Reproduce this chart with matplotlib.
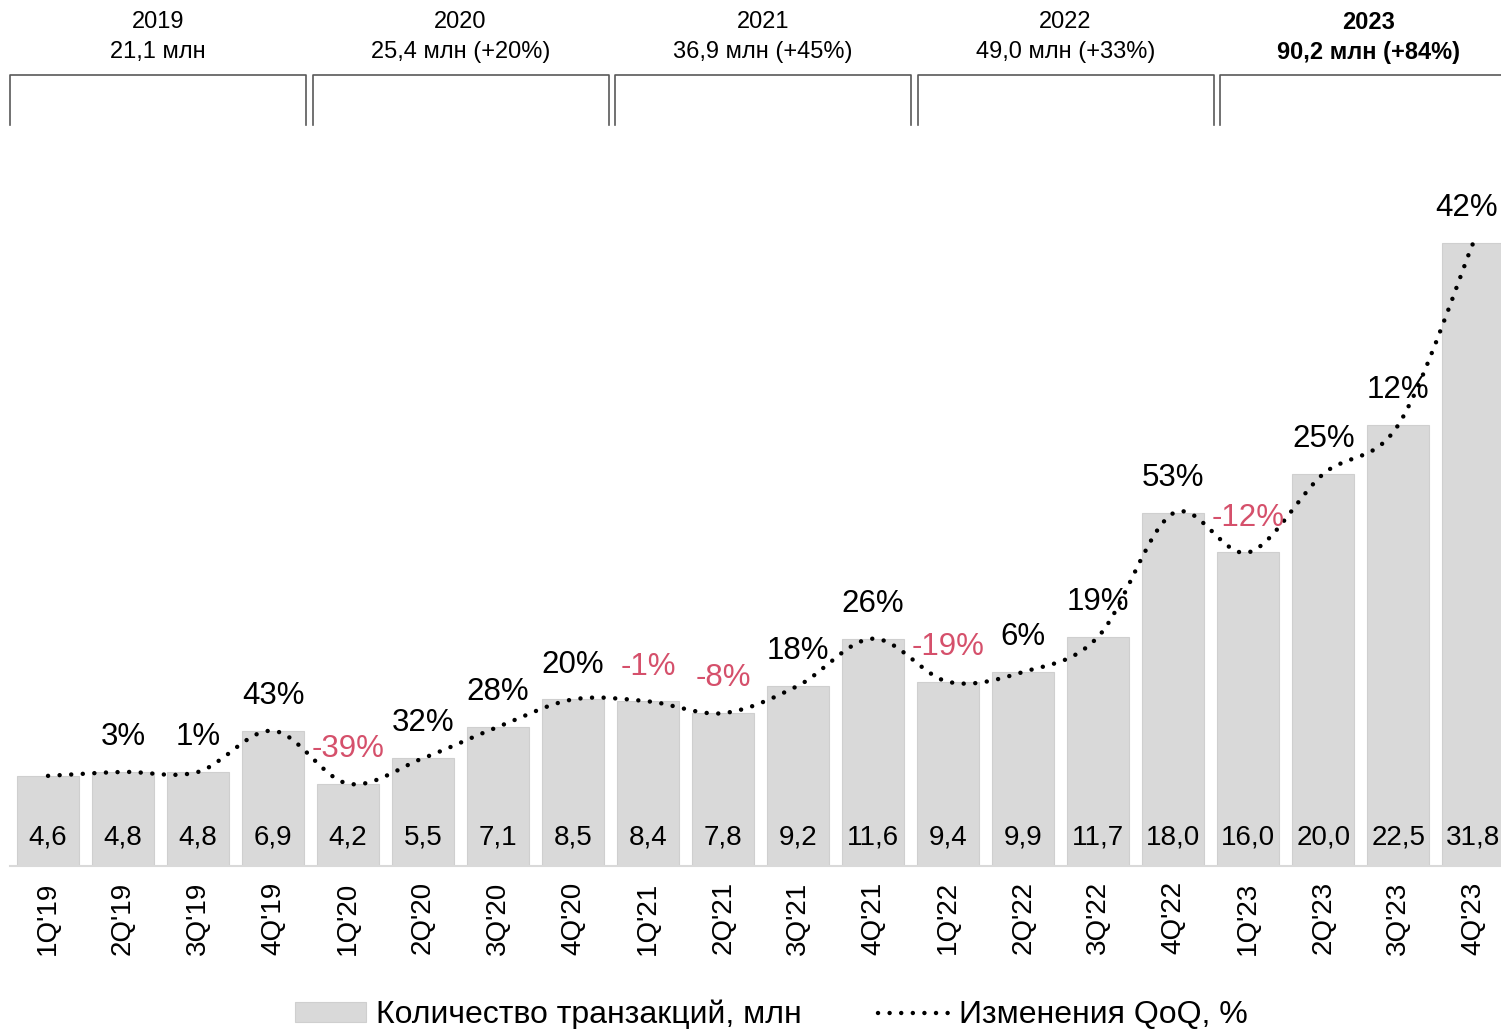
import matplotlib
matplotlib.use('Agg')

import matplotlib.pyplot as plt
from matplotlib import font_manager
from matplotlib.path import Path
from matplotlib.patches import PathPatch, Patch
from matplotlib.lines import Line2D
from matplotlib.transforms import blended_transform_factory

# Data
quarters = ["1Q'19", "2Q'19", "3Q'19", "4Q'19", "1Q'20", "2Q'20", "3Q'20", "4Q'20",
            "1Q'21", "2Q'21", "3Q'21", "4Q'21", "1Q'22", "2Q'22", "3Q'22", "4Q'22",
            "1Q'23", "2Q'23", "3Q'23", "4Q'23"]
transactions = [4.6, 4.8, 4.8, 6.9, 4.2, 5.5, 7.1, 8.5, 8.4, 7.8, 9.2, 11.6,
                9.4, 9.9, 11.7, 18.0, 16.0, 20.0, 22.5, 31.8]
qoq = [None, 3, 1, 43, -39, 32, 28, 20, -1, -8, 18, 26, -19, 6, 19, 53, -12, 25, 12, 42]
years = ["2019", "2020", "2021", "2022", "2023"]
year_totals = ["21,1 млн", "25,4 млн (+20%)", "36,9 млн (+45%)", "49,0 млн (+33%)", "90,2 млн (+84%)"]

COLORS = {
    "bar": "#d9d9d9",
    "bar_edge": "#cfcfcf",
    "text": "#000000",
    "negative": "#d5506b",
    "bracket": "#595959",
}
FONT = "Liberation Sans"
installed = {f.name for f in font_manager.fontManager.ttflist}
if "Liberation Sans Narrow" in installed:
    NARROW, NARROW_SIZE = "Liberation Sans Narrow", 22
else:
    NARROW, NARROW_SIZE = FONT, 20

DOTS = dict(linewidth=3.2, linestyle=(0, (0.01, 2.6)))

fig = plt.figure(figsize=(15.01, 10.29), dpi=100)
fig.patch.set_facecolor("white")
ax = fig.add_axes([0.00666, 0.1584, 0.99334, 0.7055])

x = list(range(len(quarters)))
ax.bar(x, transactions, width=0.83, color=COLORS["bar"], edgecolor=COLORS["bar_edge"],
       linewidth=0.8, zorder=2)

# Smoothed dotted line through bar tops (cubic Bezier, Catmull-Rom controls)
pts = list(zip(x, transactions))
verts = [pts[0]]
codes = [Path.MOVETO]
for i in range(len(pts) - 1):
    p0 = pts[max(i - 1, 0)]
    p1 = pts[i]
    p2 = pts[i + 1]
    p3 = pts[min(i + 2, len(pts) - 1)]
    c1 = (p1[0] + (p2[0] - p0[0]) / 6, p1[1] + (p2[1] - p0[1]) / 6)
    c2 = (p2[0] - (p3[0] - p1[0]) / 6, p2[1] - (p3[1] - p1[1]) / 6)
    verts += [c1, c2, p2]
    codes += [Path.CURVE4] * 3
curve = PathPatch(Path(verts, codes), fill=False, edgecolor="black", capstyle="round",
                  zorder=3, **DOTS)
ax.add_patch(curve)

# Value labels inside bars
for i, v in enumerate(transactions):
    ax.annotate(f"{v:.1f}".replace(".", ","), (i, 0), xytext=(0, 20.5), textcoords="offset points",
                ha="center", va="center", fontsize=NARROW_SIZE, family=NARROW,
                color=COLORS["text"], zorder=4)

# QoQ labels above bars
for i, q in enumerate(qoq):
    if q is None:
        continue
    dx = -5 if i == len(qoq) - 1 else 0  # keep the last label inside the figure
    ax.annotate(f"{q}%", (i, transactions[i]), xytext=(dx, 25), textcoords="offset points",
                ha="center", va="center", fontsize=22.5, family=FONT,
                color=COLORS["negative"] if q < 0 else COLORS["text"], zorder=4,
                annotation_clip=False)

ax.set_xlim(-0.507, 19.37)
ax.set_ylim(0, 37.04)
ax.set_xticks(x)
ax.set_xticklabels(quarters, rotation=90, fontsize=20, family=FONT)
ax.tick_params(axis="x", length=0, pad=11)
ax.set_yticks([])
for side in ["top", "right", "left"]:
    ax.spines[side].set_visible(False)
ax.spines["bottom"].set_color(COLORS["bar"])
ax.spines["bottom"].set_linewidth(1.5)

# Year brackets on top
trans = blended_transform_factory(ax.transData, fig.transFigure)
y_top, y_bot = 1 - 75 / 1029, 1 - 125 / 1029
for k, (yr, tot) in enumerate(zip(years, year_totals)):
    left = 4.033 * k - 0.507
    right = left + 3.947
    ax.add_line(Line2D([left, left, right, right], [y_bot, y_top, y_top, y_bot], transform=trans,
                       color=COLORS["bracket"], linewidth=1.2, clip_on=False))
    weight = "bold" if yr == "2023" else "normal"
    center = (left + right) / 2
    ax.text(center, 1 - 22 / 1029, yr, transform=trans, ha="center", va="center",
            fontsize=17, family=FONT, fontweight=weight)
    ax.text(center, 1 - 52 / 1029, tot, transform=trans, ha="center", va="center",
            fontsize=17, family=FONT, fontweight=weight)

# Legend
handles = [Patch(facecolor=COLORS["bar"], edgecolor=COLORS["bar_edge"], linewidth=0.8),
           Line2D([0], [0], color="black", dash_capstyle="round", **DOTS)]
fig.legend(handles, ["Количество транзакций, млн", "Изменения QoQ, %"], loc="center",
           bbox_to_anchor=(0.514, 0.0135), ncol=2, frameon=False,
           prop={"family": NARROW, "size": 23}, handlelength=2.2, handleheight=0.6,
           handletextpad=0.32, columnspacing=2.4)

fig.savefig("out.png", dpi=100, facecolor="white")
